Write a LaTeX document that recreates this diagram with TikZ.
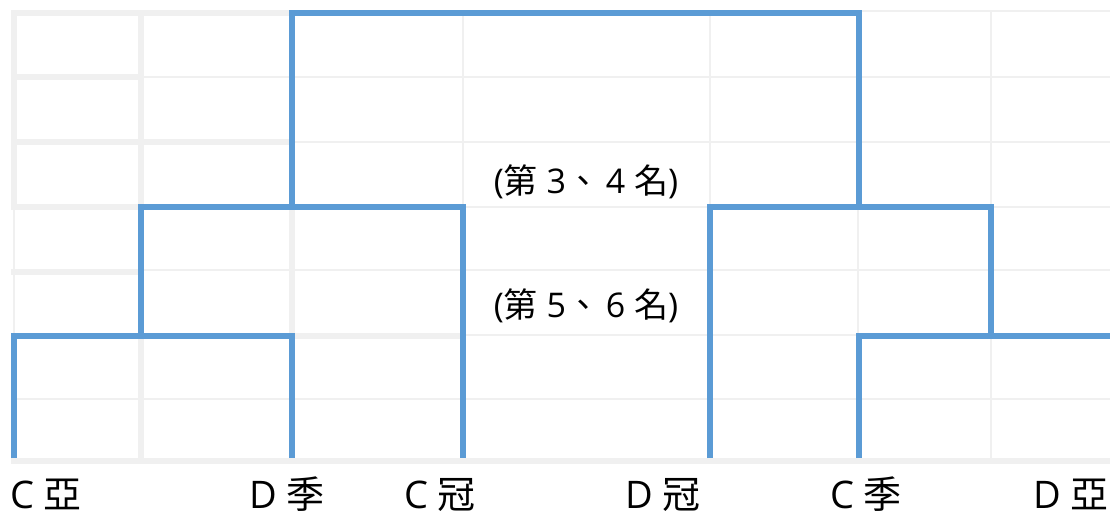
\documentclass[tikz,border=0pt]{standalone}
\usepackage{fontspec}
\setmainfont{Open Sans}
\newfontfamily\cjk{Noto Sans CJK TC}
\usepackage{tikz}
\usetikzlibrary{positioning}
\definecolor{bracketblue}{HTML}{5B9BD5}
\definecolor{cellgray}{HTML}{F0F0F0}
\tikzset{x=1pt, y=-1pt, line join=miter,
	thin grid/.style={cellgray, line width=2pt},
	thick grid/.style={cellgray, line width=6pt},
	bracket/.style={bracketblue, line width=6pt},
	team/.style={anchor=base, inner sep=0pt, text depth=0pt, font=\fontsize{38}{38}\selectfont},
	rank/.style={anchor=base, inner sep=0pt, font=\fontsize{34}{34}\selectfont}}

\begin{document}
\begin{tikzpicture}
	\useasboundingbox[fill=white] (0,0) rectangle (1110,517);
	% sheet grid
	\foreach \gx in {14,141,292,463,710,858,991}
		\draw[thin grid] (\gx,10) -- (\gx,461);
	\foreach \gy in {11,77,142,207,270,335,399}
		\draw[thin grid] (11,\gy) -- (1110,\gy);
	\draw[thick grid] (11,13) -- (292,13);
	\draw[thick grid] (14,10) -- (14,207);
	\draw[thick grid] (141,10) -- (141,461);
	\draw[thick grid] (11,77) -- (141,77);
	\draw[thick grid] (11,142) -- (292,142);
	\draw[thick grid] (11,207) -- (141,207);
	\draw[thick grid] (11,272) -- (141,272);
	\draw[thick grid] (292,204) -- (292,338);
	\draw[thick grid] (289,336) -- (463,336);
	\draw[thick grid] (11,461) -- (1110,461);

	% teams
	\coordinate (Cya) at (14,458);
	\coordinate (Dji) at (292,458);
	\coordinate (Cguan) at (463,458);
	\coordinate (Dguan) at (710,458);
	\coordinate (Cji) at (859,458);
	\coordinate (Dya) at (1110,336);
	% bracket joints
	\coordinate (L1) at (141,336);
	\coordinate (L2) at (292,207);
	\coordinate (R1) at (991,336);
	\coordinate (R2) at (859,207);

	\draw[bracket] (Cya) |- (L1) -| (Dji);
	\draw[bracket] (L1) |- (L2) -| (Cguan);
	\draw[bracket] (L2) |- (575,13) -| (R2);
	\draw[bracket] (Dguan) |- (R2) -| (R1);
	\draw[bracket] (Cji) |- (R1) -- (Dya);

	\node[team] (Cya label) at (46,508) {C {\cjk 亞}};
	\node[team] (Dji label) at (287,508) {D {\cjk 季}};
	\node[team] (Cguan label) at (440,508) {C {\cjk 冠}};
	\node[team] (Dguan label) at (663,508) {D {\cjk 冠}};
	\node[team] (Cji label) at (866,508) {C {\cjk 季}};
	\node[team] (Dya label) at (1071,508) {D {\cjk 亞}};

	\node[rank] (third) at (586,193) {({\cjk 第} 3{\cjk 、}\,4 {\cjk 名})};
	\node[rank] (fifth) at (586,317) {({\cjk 第} 5{\cjk 、}\,6 {\cjk 名})};
\end{tikzpicture}
\end{document}
